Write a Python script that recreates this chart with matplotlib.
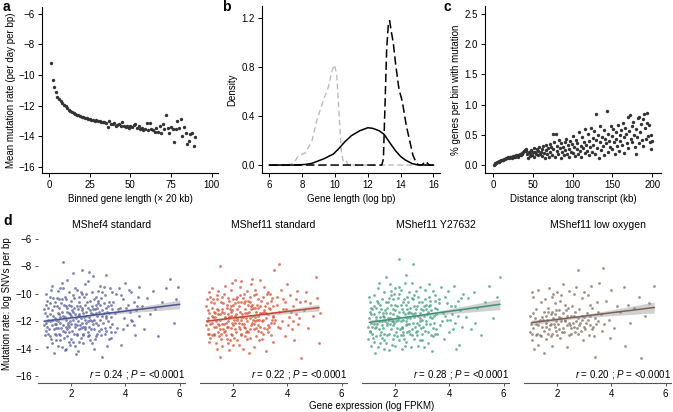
import numpy as np
import matplotlib
matplotlib.use("Agg")
import matplotlib.pyplot as plt

plt.rcParams['font.family'] = ['Liberation Sans', 'DejaVu Sans']
plt.rcParams['font.size'] = 7
plt.rcParams['mathtext.fontset'] = 'custom'
plt.rcParams['mathtext.it'] = 'Liberation Sans:italic'
plt.rcParams['mathtext.rm'] = 'Liberation Sans'

W, H = 673, 412

# ---- panel a: mean mutation rate per length bin ----
a_bins = list(range(1, 91))
a_rate = [-9.2, -10.3, -10.75, -11.1, -11.4, -11.55, -11.7, -11.85, -11.95, -12.05,
          -12.15, -12.25, -12.35, -12.42, -12.48, -12.55, -12.6, -12.63, -12.68, -12.72,
          -12.75, -12.8, -12.83, -12.86, -12.9, -12.92, -12.93, -12.98, -12.96, -13.02,
          -13.0, -13.05, -13.08, -13.06, -13.12, -13.38, -13.0, -13.18, -13.22, -13.15,
          -13.3, -13.28, -13.22, -13.35, -13.04, -13.32, -13.4, -13.3, -13.45, -13.3,
          -13.42, -13.25, -13.2, -13.48, -13.35, -13.5, -13.45, -13.6, -13.52, -13.1,
          -13.62, -13.1, -13.55, -13.6, -13.75, -13.48, -13.72, -13.3, -13.8, -13.2,
          -13.55, -12.62, -13.45, -13.8, -13.4, -13.5, -14.35, -13.55, -13.0, -13.45,
          -12.88, -13.95, -13.4, -13.78, -14.5, -14.3, -13.85, -13.8, -14.63, -14.04]

# ---- panel b: gene length densities ----
grey_x = [6, 7.2, 7.5, 7.8, 8.2, 8.6, 8.9, 9.3, 9.6, 9.8, 9.95, 10.1, 10.22, 10.38, 10.5, 10.65, 10.8, 16]
grey_y = [0, 0, 0.02, 0.08, 0.10, 0.20, 0.37, 0.53, 0.64, 0.76, 0.82, 0.75, 0.48, 0.12, 0.03, 0.04, 0.0, 0]
solid_x = [6, 7.5, 8.2, 8.6, 9.0, 9.3, 9.6, 9.9, 10.2, 10.6, 11.0, 11.5, 12.0, 12.3, 12.7,
           13.0, 13.3, 13.7, 14.0, 14.3, 14.7, 15.0, 15.5, 16]
solid_y = [0, 0, 0.005, 0.014, 0.035, 0.05, 0.07, 0.09, 0.13, 0.19, 0.24, 0.28, 0.305, 0.30, 0.28,
           0.25, 0.19, 0.115, 0.07, 0.04, 0.012, 0.003, 0.0, 0]
dash_x = [6, 12.85, 12.95, 13.05, 13.15, 13.25, 13.33, 13.42, 13.55, 13.7, 13.9, 14.1, 14.35,
          14.55, 14.75, 14.95, 15.1, 15.3, 15.5, 15.6, 15.75, 16]
dash_y = [0, 0, 0.05, 0.5, 0.95, 1.15, 1.18, 1.1, 1.0, 0.82, 0.62, 0.52, 0.32,
          0.2, 0.08, 0.02, 0.0, 0.0, 0.03, 0.02, 0.0, 0]

# ---- panel c: % genes per bin with mutation ----
c_dist = list(range(1, 201))
c_pct = [0.00, 0.02, 0.03, 0.04, 0.05, 0.05, 0.06, 0.07, 0.07, 0.08,
         0.08, 0.09, 0.09, 0.10, 0.10, 0.11, 0.11, 0.12, 0.13, 0.12,
         0.13, 0.13, 0.14, 0.12, 0.15, 0.14, 0.15, 0.13, 0.16, 0.15,
         0.16, 0.14, 0.17, 0.18, 0.16, 0.19, 0.20, 0.22, 0.24, 0.25,
         0.23, 0.26, 0.18, 0.12, 0.22, 0.15, 0.20, 0.25, 0.17, 0.22,
         0.28, 0.14, 0.21, 0.19, 0.26, 0.16, 0.24, 0.30, 0.18, 0.22,
         0.27, 0.15, 0.31, 0.20, 0.12, 0.25, 0.33, 0.18, 0.28, 0.14,
         0.35, 0.22, 0.30, 0.17, 0.51, 0.26, 0.38, 0.13, 0.52, 0.24,
         0.32, 0.19, 0.41, 0.28, 0.12, 0.36, 0.22, 0.30, 0.16, 0.38,
         0.25, 0.44, 0.18, 0.33, 0.27, 0.13, 0.40, 0.22, 0.35, 0.48,
         0.20, 0.30, 0.15, 0.42, 0.26, 0.36, 0.18, 0.55, 0.24, 0.32,
         0.14, 0.46, 0.28, 0.38, 0.20, 0.60, 0.34, 0.24, 0.52, 0.16,
         0.40, 0.30, 0.62, 0.22, 0.45, 0.33, 0.56, 0.18, 0.84, 0.42,
         0.28, 0.50, 0.12, 0.38, 0.64, 0.25, 0.46, 0.32, 0.58, 0.16,
         0.44, 0.36, 0.90, 0.22, 0.52, 0.40, 0.30, 0.64, 0.48, 0.26,
         0.60, 0.38, 0.18, 0.54, 0.44, 0.32, 0.66, 0.24, 0.50, 0.40,
         0.58, 0.34, 0.70, 0.46, 0.20, 0.62, 0.52, 0.36, 0.80, 0.28,
         0.56, 0.83, 0.44, 0.64, 0.38, 0.72, 0.50, 0.30, 0.60, 0.18,
         0.46, 0.78, 0.36, 0.80, 0.54, 0.68, 0.42, 0.76, 0.32, 0.85,
         0.62, 0.44, 0.86, 0.70, 0.48, 0.66, 0.38, 0.50, 0.26, 0.40]

# ---- panel d: expression vs mutation rate (x = log FPKM, y = log SNVs per bp) ----
mshef4_std = [
    (1.0, -12.3), (1.05, -10.8), (1.1, -13.9), (1.1, -11.6), (1.15, -12.9), (1.2, -10.2), (1.2, -12.0),
    (1.25, -13.3), (1.3, -11.2), (1.3, -9.4), (1.35, -12.6), (1.35, -14.3), (1.4, -11.8), (1.4, -10.6),
    (1.45, -13.0), (1.45, -12.2), (1.5, -9.8), (1.5, -11.4), (1.05, -12.7), (1.15, -11.0), (1.25, -9.7),
    (1.3, -13.6), (1.4, -12.9), (1.5, -13.8), (1.2, -11.5), (1.35, -10.9), (1.45, -11.9), (1.1, -12.4),
    (1.0, -11.1), (1.5, -12.5),
    (1.55, -10.4), (1.6, -12.1), (1.6, -13.4), (1.65, -11.3), (1.7, -7.7), (1.7, -12.7), (1.7, -9.6),
    (1.75, -11.7), (1.75, -14.1), (1.8, -10.9), (1.8, -12.4), (1.85, -13.1), (1.85, -11.0), (1.9, -9.9),
    (1.9, -12.8), (1.95, -11.5), (1.95, -13.7), (2.0, -10.5), (2.0, -12.2), (1.55, -12.9), (1.6, -11.7),
    (1.65, -13.9), (1.75, -10.2), (1.8, -11.9), (1.85, -12.6), (1.9, -10.8), (1.95, -12.0), (2.0, -13.3),
    (1.65, -9.2), (1.8, -14.0), (1.9, -11.4), (2.0, -11.6), (1.55, -11.5), (1.7, -12.3), (1.85, -9.0),
    (2.05, -8.5), (2.05, -11.9), (2.1, -12.9), (2.1, -10.3), (2.15, -11.5), (2.15, -13.8), (2.2, -12.3),
    (2.2, -9.7), (2.25, -11.1), (2.25, -14.2), (2.3, -12.6), (2.3, -10.6), (2.35, -11.8), (2.35, -13.2),
    (2.4, -8.3), (2.4, -12.1), (2.4, -10.0), (2.45, -11.4), (2.45, -12.9), (2.5, -9.3), (2.5, -11.9),
    (2.1, -11.0), (2.2, -13.0), (2.3, -11.6), (2.35, -9.9), (2.45, -13.6), (2.5, -10.8), (2.15, -12.4),
    (2.25, -12.0), (2.4, -11.2), (2.05, -10.1), (2.3, -13.5), (2.5, -12.6), (2.2, -10.9), (2.35, -12.5),
    (2.55, -11.3), (2.6, -12.8), (2.6, -9.1), (2.65, -11.7), (2.7, -13.4), (2.7, -10.5), (2.75, -12.0),
    (2.8, -8.7), (2.8, -11.1), (2.85, -12.6), (2.9, -10.2), (2.9, -13.1), (2.95, -11.6), (3.0, -9.8),
    (3.0, -12.3), (2.55, -10.0), (2.65, -12.4), (2.75, -10.9), (2.85, -14.0), (2.95, -12.9), (2.6, -11.0),
    (2.7, -11.9), (2.8, -12.2), (2.9, -11.4), (3.0, -10.7), (2.65, -8.4), (2.75, -13.6), (2.85, -10.4),
    (2.95, -11.0), (2.55, -12.1),
    (3.05, -11.9), (3.1, -10.3), (3.1, -13.0), (3.15, -14.6), (3.2, -11.4), (3.2, -9.5), (3.25, -12.5),
    (3.3, -8.6), (3.3, -11.0), (3.35, -12.0), (3.4, -10.6), (3.4, -13.3), (3.45, -11.7), (3.5, -9.9),
    (3.5, -12.2), (3.15, -11.2), (3.25, -10.1), (3.35, -10.9), (3.45, -12.8), (3.05, -10.8), (3.3, -12.7),
    (3.5, -11.1),
    (3.6, -11.4), (3.65, -10.0), (3.7, -12.5), (3.75, -9.6), (3.8, -11.0), (3.85, -13.7), (3.9, -10.4),
    (3.95, -11.8), (4.0, -9.2), (4.05, -12.3), (4.1, -10.8), (4.15, -11.3), (4.2, -9.9), (4.25, -12.0),
    (4.3, -10.6), (4.35, -13.0), (4.4, -11.2), (4.45, -10.2), (4.5, -11.6), (4.5, -9.5),
    (4.6, -10.9), (4.7, -12.6), (4.8, -10.3), (4.9, -11.5), (5.0, -9.8), (5.1, -11.1), (5.2, -13.1),
    (5.35, -10.6), (5.5, -9.6), (5.65, -8.9), (5.8, -12.1), (5.95, -9.5), (5.85, -10.4),
    (1.02, -11.4), (1.08, -12.1), (1.12, -10.5), (1.18, -12.6), (1.22, -13.1), (1.28, -11.9), (1.32, -10.3),
    (1.38, -12.2), (1.42, -13.4), (1.48, -10.9), (1.52, -12.0), (1.58, -13.0), (1.62, -10.7), (1.68, -11.6),
    (1.72, -13.2), (1.78, -12.8), (1.82, -10.4), (1.88, -12.1), (1.92, -13.5), (1.98, -10.9), (2.02, -12.7),
    (2.08, -11.3), (2.12, -9.6), (2.18, -11.8), (2.22, -12.9), (2.28, -10.2), (2.32, -12.3), (2.38, -11.0),
    (2.42, -13.0), (2.48, -11.7), (2.52, -12.4), (2.58, -10.6), (2.62, -12.0), (2.68, -11.2), (2.72, -12.6),
    (2.78, -9.9), (2.82, -11.5), (2.88, -13.3), (2.92, -12.1), (2.98, -10.5), (3.02, -11.3), (3.08, -12.6),
    (3.12, -9.9), (3.18, -12.1), (3.22, -10.7), (3.28, -11.6), (3.32, -13.8), (3.38, -11.4), (3.42, -9.6),
    (3.48, -10.8), (1.03, -13.0), (1.13, -11.9), (1.23, -10.7), (1.33, -11.6), (1.43, -12.5), (1.53, -11.0),
    (1.63, -12.5), (1.73, -10.8), (1.83, -11.3), (1.93, -12.4), (2.03, -11.2), (2.13, -12.2), (2.23, -11.6),
    (2.33, -10.9), (2.43, -12.4), (2.53, -11.6), (2.63, -13.1), (2.73, -11.4), (2.83, -11.9), (2.93, -10.8),
    (3.03, -12.7), (3.13, -11.6), (3.23, -12.9), (3.33, -11.3), (3.43, -12.4), (1.07, -10.0), (1.27, -12.3),
    (1.47, -10.3), (1.67, -10.4), (1.87, -12.3), (2.07, -13.5), (2.27, -11.5), (2.47, -10.2), (2.67, -13.0),
    (2.87, -11.1), (3.07, -9.4), (3.27, -11.8), (3.47, -13.2), (3.55, -10.6), (3.62, -12.8), (3.72, -11.1),
    (3.82, -10.1), (3.92, -12.6), (4.02, -11.0), (4.12, -9.7), (4.22, -11.9), (4.32, -12.3), (4.42, -10.9),
    (1.57, -9.6), (2.17, -14.4)]

mshef11_std = [
    (1.0, -10.9), (1.05, -12.6), (1.1, -11.4), (1.1, -13.5), (1.15, -10.2), (1.2, -12.1), (1.2, -9.6),
    (1.25, -11.7), (1.3, -13.0), (1.3, -10.7), (1.35, -12.4), (1.4, -11.1), (1.4, -14.0), (1.45, -9.8),
    (1.45, -12.8), (1.5, -8.0), (1.5, -11.5), (1.5, -14.6), (1.05, -11.8), (1.15, -13.2), (1.25, -10.4),
    (1.35, -12.0), (1.45, -11.2), (1.0, -12.3), (1.2, -11.0), (1.3, -12.9), (1.4, -10.1), (1.1, -9.9),
    (1.35, -13.6), (1.5, -12.6),
    (1.55, -10.6), (1.6, -12.2), (1.6, -13.8), (1.65, -11.4), (1.7, -9.4), (1.7, -12.7), (1.75, -11.0),
    (1.75, -13.3), (1.8, -10.3), (1.8, -12.0), (1.85, -11.7), (1.85, -14.1), (1.9, -9.7), (1.9, -12.5),
    (1.95, -11.2), (1.95, -13.0), (2.0, -10.8), (2.0, -12.3), (1.55, -12.9), (1.65, -10.0), (1.7, -11.8),
    (1.75, -12.4), (1.8, -13.6), (1.85, -10.5), (1.9, -11.3), (1.95, -9.2), (2.0, -13.7), (1.6, -11.1),
    (1.8, -11.5), (1.95, -12.1), (1.65, -12.8), (1.9, -10.9),
    (2.05, -11.6), (2.05, -9.0), (2.1, -12.8), (2.1, -10.4), (2.15, -11.9), (2.15, -13.4), (2.2, -10.9),
    (2.2, -12.4), (2.25, -9.5), (2.25, -11.3), (2.3, -12.9), (2.3, -10.6), (2.35, -11.7), (2.35, -14.0),
    (2.4, -10.0), (2.4, -12.2), (2.45, -11.1), (2.45, -13.1), (2.5, -9.8), (2.5, -12.0), (2.1, -11.5),
    (2.2, -13.7), (2.3, -11.9), (2.4, -10.7), (2.5, -11.4), (2.15, -10.2), (2.25, -12.6), (2.35, -10.3),
    (2.45, -12.5), (2.05, -12.1), (2.3, -9.1), (2.5, -13.3),
    (2.55, -10.5), (2.6, -11.8), (2.6, -13.2), (2.65, -9.3), (2.65, -12.3), (2.7, -10.8), (2.7, -11.6),
    (2.75, -13.9), (2.75, -10.1), (2.8, -12.0), (2.8, -9.7), (2.85, -11.3), (2.9, -12.7), (2.9, -10.4),
    (2.95, -11.9), (3.0, -9.0), (3.0, -12.4), (2.55, -12.8), (2.65, -11.1), (2.75, -12.2), (2.85, -10.0),
    (2.95, -13.4), (2.6, -10.6), (2.8, -11.0), (2.9, -11.6), (3.0, -10.9), (2.7, -8.9), (2.85, -12.5),
    (3.05, -11.4), (3.1, -10.2), (3.1, -12.9), (3.15, -9.5), (3.2, -11.8), (3.2, -14.2), (3.25, -10.7),
    (3.3, -12.3), (3.3, -9.9), (3.35, -11.1), (3.4, -13.0), (3.4, -10.5), (3.45, -11.7), (3.5, -8.3),
    (3.5, -12.1), (3.15, -11.3), (3.25, -12.6), (3.35, -10.0), (3.45, -13.5), (3.05, -12.0),
    (3.6, -10.8), (3.65, -12.4), (3.7, -7.85), (3.7, -11.3), (3.75, -9.7), (3.8, -12.0), (3.85, -10.4),
    (3.9, -13.1), (3.95, -11.1), (4.0, -9.3), (4.05, -11.7), (4.1, -10.1), (4.15, -12.6), (4.2, -10.9),
    (4.3, -11.5), (4.35, -9.8), (4.4, -12.2), (4.5, -14.7), (4.45, -10.6), (4.25, -13.4),
    (4.6, -11.2), (4.7, -9.9), (4.75, -12.5), (4.85, -10.7), (4.95, -11.6), (5.05, -8.8), (5.1, -10.3),
    (5.15, -13.6), (5.2, -11.4), (4.65, -10.5),
    (1.02, -12.0), (1.08, -11.2), (1.12, -12.9), (1.18, -10.6), (1.22, -11.6), (1.28, -12.4), (1.32, -11.4),
    (1.38, -10.4), (1.42, -12.2), (1.48, -13.1), (1.52, -11.9), (1.58, -10.2), (1.62, -12.6), (1.68, -11.7),
    (1.72, -13.0), (1.78, -10.8), (1.82, -12.4), (1.88, -11.1), (1.92, -12.9), (1.98, -10.4), (2.02, -11.9),
    (2.08, -12.6), (2.12, -11.1), (2.18, -10.6), (2.22, -12.1), (2.28, -13.0), (2.32, -11.5), (2.38, -12.4),
    (2.42, -10.5), (2.48, -11.8), (2.52, -12.7), (2.58, -11.3), (2.62, -10.2), (2.68, -12.1), (2.72, -11.0),
    (2.78, -12.6), (2.82, -11.7), (2.88, -10.8), (2.92, -12.3), (2.98, -11.4), (3.02, -10.5), (3.08, -11.9),
    (3.12, -12.5), (3.18, -10.9), (3.22, -11.4), (3.28, -12.8), (3.32, -11.0), (3.38, -12.1), (3.42, -10.3),
    (3.48, -11.6), (1.03, -10.4), (1.13, -12.2), (1.23, -13.0), (1.33, -11.7), (1.43, -11.5), (1.53, -13.3),
    (1.63, -10.7), (1.73, -12.1), (1.83, -11.8), (1.93, -11.6), (2.03, -13.2), (2.13, -11.8), (2.23, -10.1),
    (2.33, -12.2), (2.43, -11.4), (2.53, -10.8), (2.63, -12.6), (2.73, -11.9), (2.83, -13.1), (2.93, -11.0),
    (3.03, -12.8), (3.13, -11.2), (3.23, -10.0), (3.33, -12.4), (3.43, -11.9), (1.07, -12.9), (1.27, -11.3),
    (1.47, -12.3), (1.67, -12.2), (1.87, -13.4), (2.07, -10.7), (2.27, -11.7), (2.47, -12.8), (2.67, -10.9),
    (2.87, -11.9), (3.07, -13.3), (3.27, -11.5), (3.47, -10.9), (3.55, -11.9), (3.62, -10.2), (3.72, -12.5),
    (3.82, -11.1), (3.92, -10.6), (4.02, -12.3), (4.12, -11.3), (4.22, -12.0), (4.32, -10.4), (4.42, -11.8),
    (1.57, -11.3), (2.57, -14.3)]

mshef11_y27632 = [
    (1.0, -12.4), (1.05, -10.6), (1.1, -13.8), (1.1, -11.5), (1.15, -12.9), (1.2, -10.1), (1.2, -12.2),
    (1.25, -14.3), (1.3, -11.0), (1.3, -13.1), (1.35, -9.6), (1.4, -12.6), (1.4, -11.3), (1.45, -13.6),
    (1.5, -10.4), (1.5, -12.0), (1.05, -12.8), (1.15, -11.1), (1.25, -12.5), (1.35, -13.9), (1.45, -11.7),
    (1.0, -13.3), (1.2, -10.9), (1.3, -11.9), (1.4, -9.2), (1.5, -13.2), (1.1, -12.1), (1.35, -10.7),
    (1.55, -11.4), (1.6, -12.9), (1.6, -9.9), (1.65, -13.6), (1.7, -11.0), (1.7, -12.3), (1.75, -10.3),
    (1.75, -14.1), (1.8, -11.8), (1.8, -9.3), (1.85, -12.6), (1.85, -10.8), (1.9, -13.3), (1.9, -11.5),
    (1.95, -10.0), (1.95, -12.1), (2.0, -13.8), (2.0, -11.2), (1.55, -12.5), (1.65, -10.6), (1.7, -13.0),
    (1.8, -12.2), (1.85, -9.8), (1.9, -10.4), (1.95, -13.0), (2.0, -9.6), (1.6, -11.7), (1.75, -11.9),
    (1.9, -12.0), (1.65, -8.8),
    (2.05, -12.5), (2.1, -10.3), (2.12, -7.5), (2.15, -11.7), (2.15, -13.4), (2.2, -9.7), (2.2, -12.0),
    (2.25, -11.1), (2.25, -14.0), (2.3, -10.6), (2.3, -12.8), (2.35, -11.5), (2.35, -9.2), (2.4, -12.3),
    (2.4, -13.5), (2.45, -10.2), (2.45, -11.8), (2.5, -12.7), (2.5, -9.9), (2.1, -11.9), (2.2, -13.0),
    (2.3, -11.3), (2.4, -10.8), (2.5, -11.3), (2.05, -10.9), (2.25, -12.4), (2.35, -13.8), (2.45, -12.2),
    (2.15, -9.5), (2.4, -8.6),
    (2.55, -11.0), (2.6, -12.6), (2.65, -7.8), (2.65, -10.4), (2.7, -11.7), (2.7, -13.3), (2.75, -9.8),
    (2.8, -12.1), (2.8, -10.9), (2.85, -13.8), (2.9, -11.4), (2.9, -9.5), (2.95, -12.5), (3.0, -10.6),
    (3.0, -11.9), (2.55, -12.9), (2.65, -11.5), (2.75, -12.8), (2.85, -10.2), (2.95, -11.1), (2.6, -9.2),
    (2.8, -13.0), (2.9, -12.0), (3.0, -13.4), (2.7, -10.1),
    (3.05, -11.6), (3.1, -9.7), (3.1, -12.7), (3.15, -10.8), (3.2, -13.6), (3.2, -11.3), (3.25, -9.3),
    (3.3, -12.2), (3.3, -10.5), (3.35, -11.8), (3.4, -13.1), (3.45, -10.1), (3.5, -11.5), (3.5, -12.6),
    (3.15, -12.0), (3.25, -10.9), (3.4, -9.8), (3.05, -13.9), (3.35, -14.2), (3.45, -11.0),
    (3.6, -10.7), (3.65, -12.3), (3.7, -9.5), (3.75, -11.4), (3.8, -13.3), (3.85, -10.2), (3.9, -11.9),
    (3.95, -9.8), (4.0, -12.8), (4.05, -10.9), (4.1, -11.5), (4.15, -9.4), (4.2, -12.1), (4.3, -10.5),
    (4.35, -13.7), (4.4, -11.2), (4.5, -10.0), (4.45, -12.4), (4.25, -14.0), (3.55, -12.9),
    (4.6, -11.7), (4.7, -10.3), (4.8, -12.6), (4.9, -9.9), (5.0, -11.0), (5.15, -13.0), (5.3, -10.6),
    (5.45, -9.4), (5.6, -11.8), (5.86, -8.8), (5.75, -10.2), (4.95, -12.1),
    (1.02, -11.8), (1.08, -12.7), (1.12, -11.0), (1.18, -13.2), (1.22, -11.5), (1.28, -12.4), (1.32, -10.5),
    (1.38, -12.0), (1.42, -13.0), (1.48, -11.1), (1.52, -12.3), (1.58, -13.4), (1.62, -11.2), (1.68, -12.1),
    (1.72, -10.6), (1.78, -12.9), (1.82, -11.4), (1.88, -13.7), (1.92, -12.3), (1.98, -10.8), (2.02, -12.0),
    (2.08, -13.1), (2.12, -11.3), (2.18, -12.6), (2.22, -10.8), (2.28, -11.9), (2.32, -13.3), (2.38, -12.0),
    (2.42, -11.1), (2.48, -10.6), (2.52, -12.2), (2.58, -11.4), (2.62, -13.0), (2.68, -10.9), (2.72, -12.4),
    (2.78, -11.1), (2.82, -12.7), (2.88, -10.6), (2.92, -11.8), (2.98, -12.9), (3.02, -11.2), (3.08, -10.4),
    (3.12, -12.2), (3.18, -11.5), (3.22, -12.8), (3.28, -10.8), (3.32, -11.2), (3.38, -12.5), (3.42, -11.6),
    (3.48, -10.5), (1.03, -10.2), (1.13, -12.4), (1.23, -13.5), (1.33, -12.2), (1.43, -10.8), (1.53, -11.6),
    (1.63, -12.0), (1.73, -11.8), (1.83, -10.1), (1.93, -11.1), (2.03, -12.8), (2.13, -10.0), (2.23, -12.5),
    (2.33, -10.4), (2.43, -12.8), (2.53, -11.8), (2.63, -10.3), (2.73, -11.4), (2.83, -11.6), (2.93, -13.4),
    (3.03, -12.4), (3.13, -11.1), (3.23, -10.2), (3.33, -13.0), (3.43, -12.1), (1.07, -11.3), (1.27, -11.7),
    (1.47, -12.8), (1.67, -11.4), (1.87, -12.0), (2.07, -11.6), (2.27, -13.0), (2.47, -11.4), (2.67, -12.1),
    (2.87, -12.3), (3.07, -10.9), (3.27, -11.7), (3.47, -12.9), (3.55, -11.1), (3.62, -10.4), (3.72, -12.0),
    (3.82, -11.6), (3.92, -10.7), (4.02, -11.9), (4.12, -12.6), (4.22, -10.9), (4.32, -11.6), (4.42, -10.3),
    (1.57, -14.0), (2.57, -13.9)]

mshef11_lowo2 = [
    (1.0, -11.6), (1.05, -13.4), (1.1, -10.2), (1.1, -12.5), (1.15, -14.0), (1.2, -11.1), (1.25, -12.9),
    (1.3, -9.7), (1.3, -13.7), (1.35, -11.9), (1.4, -10.6), (1.45, -12.4), (1.5, -14.3), (1.5, -11.3),
    (1.05, -9.9), (1.2, -12.2), (1.4, -13.1), (1.0, -12.8),
    (1.55, -10.4), (1.6, -12.1), (1.6, -13.3), (1.65, -11.0), (1.7, -9.6), (1.7, -12.6), (1.75, -11.5),
    (1.8, -10.2), (1.8, -13.8), (1.85, -11.8), (1.9, -12.4), (1.9, -10.7), (1.95, -11.2), (2.0, -13.0),
    (2.0, -9.9), (1.65, -12.9), (1.85, -10.0), (1.75, -12.2), (1.95, -12.7), (1.6, -11.6), (1.8, -11.3),
    (2.05, -11.7), (2.1, -10.5), (2.1, -13.2), (2.15, -12.0), (2.2, -9.3), (2.2, -11.4), (2.25, -12.8),
    (2.3, -10.8), (2.35, -12.3), (2.35, -13.9), (2.4, -11.0), (2.45, -9.8), (2.5, -12.5), (2.5, -11.6),
    (2.15, -10.1), (2.3, -11.9), (2.45, -13.0), (2.05, -12.6),
    (2.55, -10.9), (2.6, -12.4), (2.65, -11.3), (2.7, -9.5), (2.75, -12.9), (2.77, -8.3), (2.8, -11.1),
    (2.85, -12.1), (2.9, -10.3), (2.95, -13.4), (3.0, -11.7), (2.6, -10.0), (2.7, -12.0), (2.9, -11.6),
    (3.0, -9.9),
    (3.1, -11.4), (3.15, -10.1), (3.2, -12.3), (3.25, -9.4), (3.3, -11.0), (3.35, -13.1), (3.4, -14.6),
    (3.45, -10.6), (3.5, -12.0), (3.55, -9.2), (3.6, -11.5), (3.67, -8.1), (3.65, -12.7), (3.2, -10.8),
    (3.4, -11.8),
    (3.8, -10.5), (3.9, -11.9), (4.0, -9.7), (4.1, -12.5), (4.2, -10.9), (4.3, -11.3), (4.45, -9.5),
    (4.6, -10.8), (4.7, -12.1), (4.85, -11.0), (5.0, -10.2), (5.1, -14.7), (5.25, -11.6), (5.4, -10.7),
    (5.58, -9.4), (4.5, -13.8), (3.95, -13.2),
    (1.02, -12.2), (1.12, -11.4), (1.22, -13.0), (1.32, -12.0), (1.42, -11.7), (1.52, -12.7), (1.62, -11.9),
    (1.72, -12.3), (1.82, -12.9), (1.92, -11.5), (2.02, -12.2), (2.12, -11.8), (2.22, -12.5), (2.32, -11.2),
    (2.42, -12.1), (2.52, -12.9), (2.62, -11.6), (2.72, -12.5), (2.82, -12.3), (2.92, -11.9), (3.02, -12.6),
    (3.12, -11.9), (3.22, -11.6), (3.32, -12.4), (3.42, -12.2), (1.07, -12.9), (1.17, -11.8), (1.27, -12.3),
    (1.37, -13.0), (1.47, -11.9), (1.57, -12.4), (1.67, -11.3), (1.77, -13.1), (1.87, -12.2), (1.97, -12.0),
    (2.07, -11.2), (2.17, -12.8), (2.27, -12.0), (2.37, -11.6), (2.47, -12.3), (2.57, -12.1), (2.67, -12.8),
    (2.77, -11.8), (2.87, -12.7), (2.97, -12.4), (3.07, -12.1), (3.17, -13.0), (3.27, -12.6), (3.52, -11.3),
    (3.72, -12.2)]

d_titles = ['MShef4 standard', 'MShef11 standard', 'MShef11 Y27632', 'MShef11 low oxygen']
d_points = [mshef4_std, mshef11_std, mshef11_y27632, mshef11_lowo2]
d_colors = ['#5a64a2', '#d9583a', '#4aa387', '#8c7463']
d_line_colors = ['#4a5592', '#c24a30', '#3c9478', '#7a6352']
# fitted line: x0, y0, x1, y1, CI half-width mid / end
d_fits = [(1.0, -12.0, 6.0, -10.77, 0.07, 0.32),
          (1.03, -11.99, 5.16, -11.01, 0.07, 0.24),
          (1.05, -12.08, 5.86, -10.77, 0.08, 0.38),
          (1.05, -12.1, 5.58, -11.0, 0.10, 0.40)]
d_r = ['0.24', '0.22', '0.28', '0.20']

fig = plt.figure(figsize=(W / 100, H / 100), dpi=100)


def px_axes(l, t, r, b):
    return fig.add_axes([l / W, 1 - b / H, (r - l) / W, (b - t) / H])


def classic(ax):
    for s in ['top', 'right']:
        ax.spines[s].set_visible(False)
    for s in ['left', 'bottom']:
        ax.spines[s].set_linewidth(0.8)
    ax.tick_params(length=3, width=0.7, pad=2, labelsize=7)


# panel a
axa = px_axes(42, 7, 218, 173)
axa.scatter(a_bins, a_rate, s=6, color='#333333', linewidths=0)
axa.set_xlim(-4.5, 104)
axa.set_ylim(-16.4, -5.55)
axa.set_xticks([0, 25, 50, 75, 100])
axa.set_yticks([-16, -14, -12, -10, -8, -6])
axa.set_xlabel('Binned gene length (\u00d7 20 kb)', labelpad=3)
axa.set_ylabel('Mean mutation rate (per day per bp)', labelpad=2)
classic(axa)

# panel b
axb = px_axes(262, 6, 440, 173)
axb.plot(grey_x, grey_y, color='#bbbbbb', lw=1.0, dashes=(4, 2.5))
axb.plot(solid_x, solid_y, color='black', lw=1.1)
axb.plot(dash_x, dash_y, color='black', lw=1.1, dashes=(5.5, 2.5))
axb.set_xlim(5.55, 16.4)
axb.set_ylim(-0.065, 1.3)
axb.set_xticks([6, 8, 10, 12, 14, 16])
axb.set_yticks([0, 0.4, 0.8, 1.2])
axb.set_yticklabels(['0.0', '0.4', '0.8', '1.2'])
axb.set_xlabel('Gene length (log bp)', labelpad=3)
axb.set_ylabel('Density', labelpad=3)
classic(axb)

# panel c
axc = px_axes(485, 6, 661, 173)
axc.scatter(c_dist, c_pct, s=6, color='#333333', linewidths=0)
axc.set_xlim(-10, 211)
axc.set_ylim(-0.13, 2.63)
axc.set_xticks([0, 50, 100, 150, 200])
axc.set_yticks([0, 0.5, 1.0, 1.5, 2.0, 2.5])
axc.set_yticklabels(['0.0', '0.5', '1.0', '1.5', '2.0', '2.5'])
axc.set_xlabel('Distance along transcript (kb)', labelpad=3)
axc.set_ylabel('% genes per bin with mutation', labelpad=3)
classic(axc)

# panel d
lefts = [38, 200, 362, 524]
for i, l in enumerate(lefts):
    ax = px_axes(l, 232, l + 147, 383)
    pts = np.array(d_points[i])
    ax.scatter(pts[:, 0], pts[:, 1], s=4, color=d_colors[i], alpha=0.8, linewidths=0)
    x0, y0, x1, y1, hm, he = d_fits[i]
    xs = np.linspace(x0, x1, 60)
    ys = y0 + (y1 - y0) * (xs - x0) / (x1 - x0)
    xc = x0 + 0.3 * (x1 - x0)
    frac = np.abs(xs - xc) / (x1 - xc)
    hw = np.sqrt(hm ** 2 + (he ** 2 - hm ** 2) * frac ** 2)
    ax.fill_between(xs, ys - hw, ys + hw, color='#999999', alpha=0.45, linewidth=0)
    ax.plot(xs, ys, color=d_line_colors[i], lw=1.1)
    ax.set_xlim(0.77, 6.2)
    ax.set_ylim(-16.5, -5.5)
    ax.set_xticks([2, 4, 6])
    ax.set_yticks([-16, -14, -12, -10, -8, -6])
    for s in ['top', 'right', 'left']:
        ax.spines[s].set_visible(False)
    ax.spines['bottom'].set_color('#555555')
    ax.spines['bottom'].set_linewidth(0.8)
    ax.tick_params(axis='x', length=2.5, width=0.7, color='#555555', pad=2, labelsize=7)
    if i == 0:
        ax.tick_params(axis='y', length=2.5, width=0.7, color='#555555', pad=2, labelsize=7)
    else:
        ax.tick_params(axis='y', left=False, labelleft=False)
    ax.set_title(d_titles[i], fontsize=7.5, pad=3)
    ax.text(6.2, -15.9, r'$r$ = ' + d_r[i] + r' ; $P$ = <0.0001', ha='right', va='center', fontsize=7)

fig.text(7 / W, 1 - 304 / H, 'Mutation rate: log SNVs per bp', rotation=90, ha='center', va='center', fontsize=7)
fig.text(372 / W, 1 - 406 / H, 'Gene expression (log FPKM)', ha='center', va='center', fontsize=7)

for lab, x, y in [('a', 3, 7), ('b', 222, 7), ('c', 443, 7), ('d', 3, 221)]:
    fig.text(x / W, 1 - y / H, lab, fontsize=10, fontweight='bold', ha='left', va='center')

fig.savefig('out.png', dpi=100)
